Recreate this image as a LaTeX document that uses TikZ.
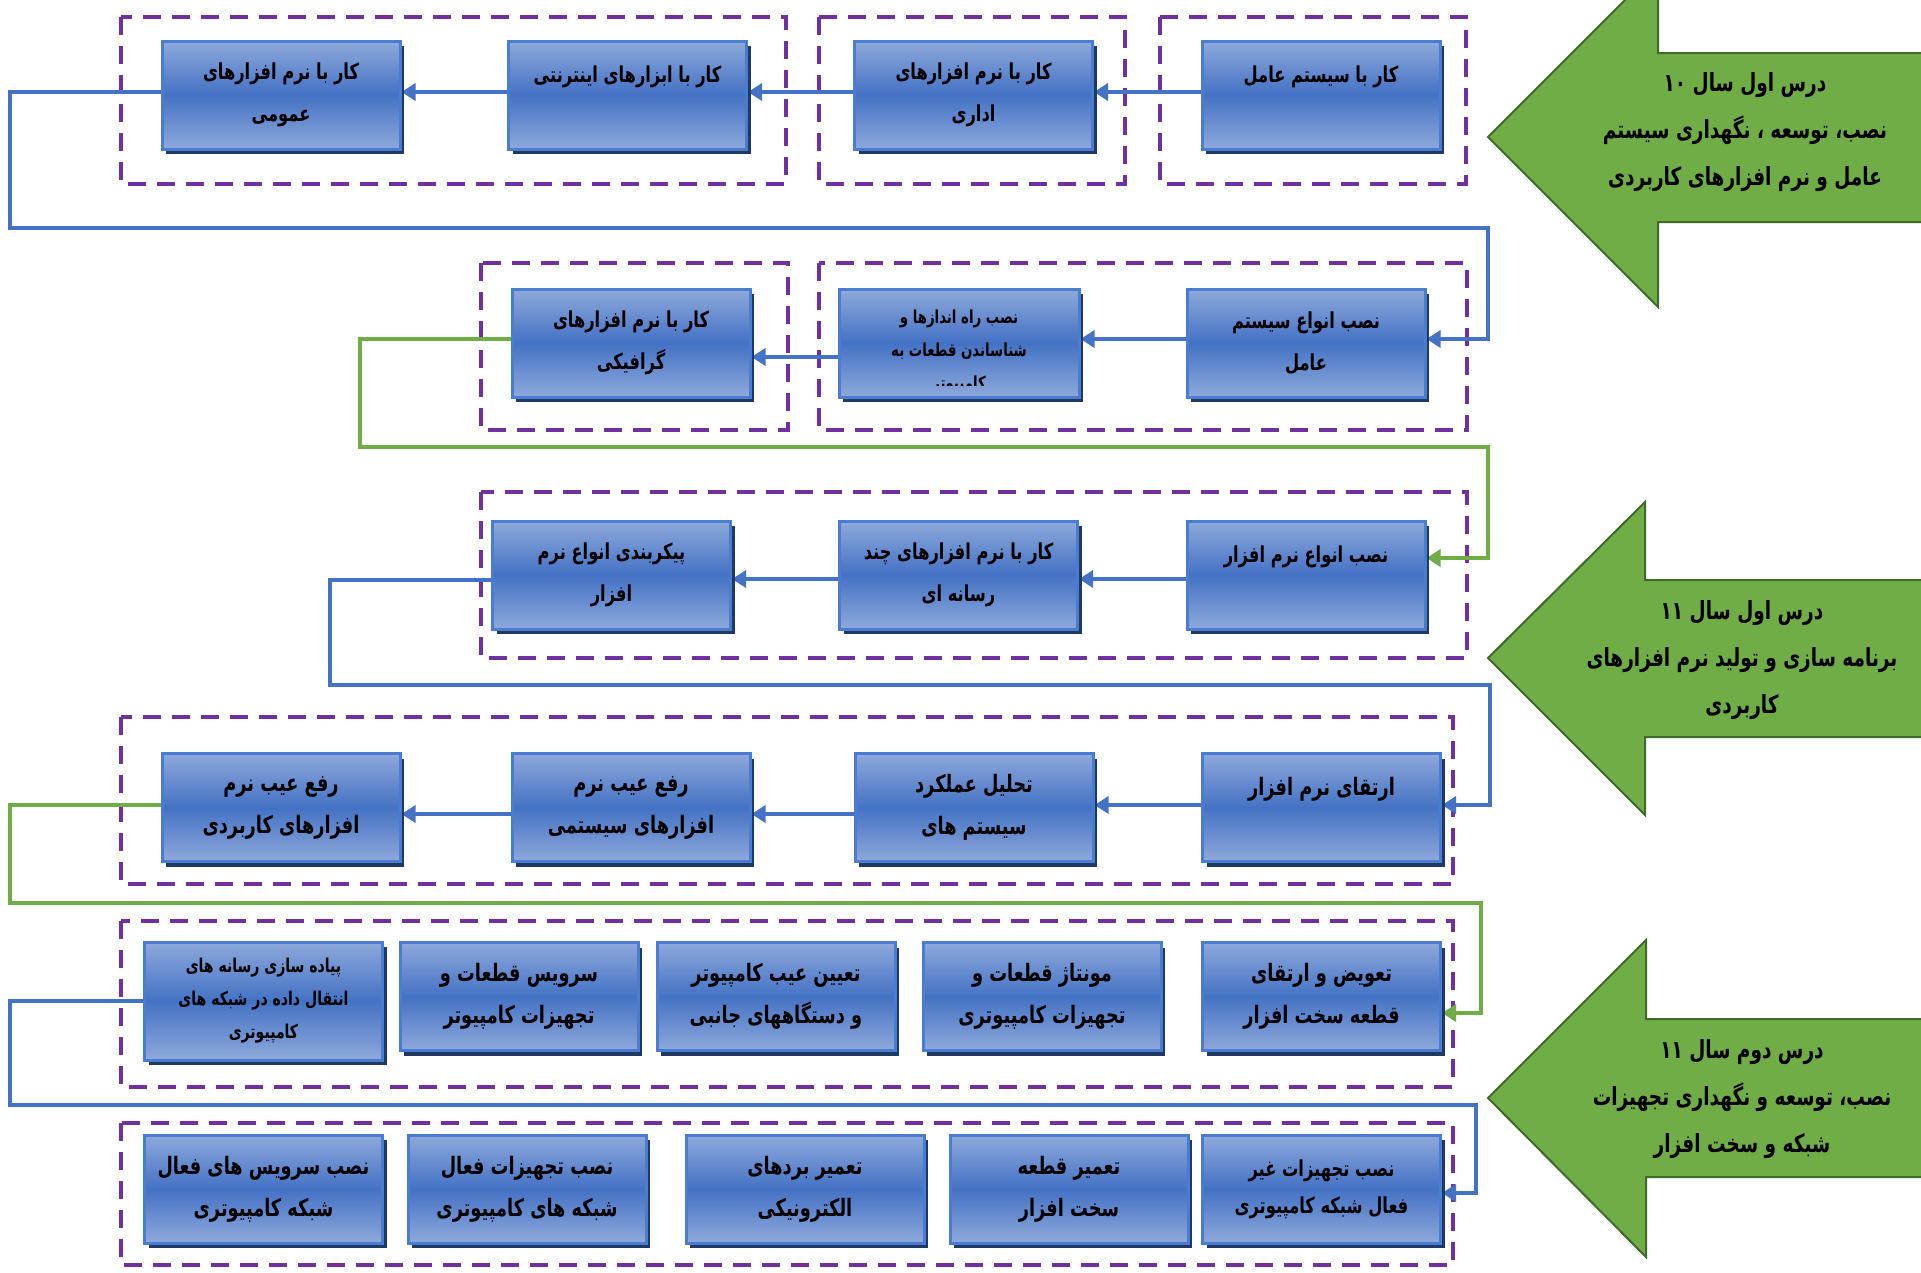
\documentclass[tikz,border=0pt]{standalone}
\usepackage{fontspec}
\newfontfamily\arabicfont[Script=Arabic, FakeStretch=0.74]{DejaVu Sans}
\TeXXeTstate=1
\usetikzlibrary{arrows.meta,shadows}
\definecolor{boxlight}{HTML}{8EA9DB}
\definecolor{boxmid}{HTML}{4472C4}
\definecolor{boxborder}{HTML}{4A7DD1}
\definecolor{shadowc}{HTML}{1F3864}
\definecolor{grpc}{HTML}{7030A0}
\definecolor{cblue}{HTML}{4472C4}
\definecolor{cgreen}{HTML}{70AD47}
\definecolor{agreen}{HTML}{70AD47}
\definecolor{adark}{HTML}{3F6B28}
\newcommand{\myR}[1]{\beginR#1\endR}
\pgfdeclarelayer{back}
\pgfdeclarelayer{mid}
\pgfsetlayers{back,mid,main}
\tikzset{
  bx/.style={draw=boxborder, line width=3pt, top color=boxlight, bottom color=boxlight, middle color=boxmid,
    minimum width=238pt, minimum height=108pt, inner sep=0pt, align=center,
    font=\arabicfont\bfseries\fontsize{22}{42}\selectfont,
    drop shadow={shadow xshift=4pt, shadow yshift=-5pt, fill=shadowc, opacity=1}},
  big/.style={font=\arabicfont\bfseries\fontsize{24}{42}\selectfont},
  smalltext/.style={font=\arabicfont\bfseries\fontsize{19}{33}\selectfont},
  grp/.style={draw=grpc, line width=4pt, dash pattern=on 18pt off 11pt},
  bl/.style={draw=cblue, line width=4.5pt, -{Triangle[length=14pt,width=17pt]}},
  gl/.style={draw=cgreen, line width=4.5pt, -{Triangle[length=14pt,width=17pt]}},
  bigarr/.style={fill=agreen, draw=adark, line width=2pt},
  atext/.style={align=center, inner sep=0pt, font=\arabicfont\bfseries\fontsize{25}{47}\selectfont}
}
\begin{document}
\begin{tikzpicture}[x=1pt,y=-1pt]
\useasboundingbox (0,0) rectangle (1921,1272);
\begin{pgfonlayer}{back}
\fill[white] (0,0) rectangle (1921,1272);
% dashed groups
\draw[grp] (1160,17) rectangle (1466,184);
\draw[grp] (819,17) rectangle (1125,184);
\draw[grp] (121,17) rectangle (786,184);
\draw[grp] (819,263) rectangle (1467,430);
\draw[grp] (481,263) rectangle (788,430);
\draw[grp] (481,492) rectangle (1467,658);
\draw[grp] (121,717) rectangle (1453,884);
\draw[grp] (121,921) rectangle (1453,1087);
\draw[grp] (121,1123) rectangle (1453,1265);
\end{pgfonlayer}

% big green arrows
\draw[bigarr] (1935,53) -- (1658,53) -- (1658,-33) -- (1488,137) -- (1658,307) -- (1658,222) -- (1935,222);
\draw[bigarr] (1935,580) -- (1645,580) -- (1645,502) -- (1488,658) -- (1645,815) -- (1645,737) -- (1935,737);
\draw[bigarr] (1935,1019) -- (1646,1019) -- (1646,940) -- (1488,1098) -- (1646,1257) -- (1646,1177) -- (1935,1177);
\node[atext] (g1) at (1745,132) {\myR{درس اول سال ۱۰}\\\myR{نصب، توسعه ، نگهداری سیستم}\\\myR{عامل و نرم افزارهای کاربردی}};
\node[atext] (g2) at (1742,660) {\myR{درس اول سال ۱۱}\\\myR{برنامه سازی و تولید نرم افزارهای}\\\myR{کاربردی}};
\node[atext] (g3) at (1742,1099) {\myR{درس دوم سال ۱۱}\\\myR{نصب، توسعه و نگهداری تجهیزات}\\\myR{شبکه و سخت افزار}};

% boxes
\node[bx] (a1) at (1321,95) {\myR{کار با سیستم عامل}\\\mbox{}};
\node[bx] (a2) at (973.5,95) {\myR{کار با نرم افزارهای}\\\myR{اداری}};
\node[bx] (a3) at (627.5,95) {\myR{کار با ابزارهای اینترنتی}\\\mbox{}};
\node[bx] (a4) at (281,95) {\myR{کار با نرم افزارهای}\\\myR{عمومی}};

\node[bx] (b1) at (1306,343) {\myR{نصب انواع سیستم}\\\myR{عامل}};
\node[bx, minimum width=240pt] (b2) at (959,343) {};
\node[bx] (b3) at (631,343) {\myR{کار با نرم افزارهای}\\\myR{گرافیکی}};
\begin{scope}
\clip ([xshift=3pt,yshift=13pt]b2.south west) rectangle ([xshift=-3pt,yshift=-3pt]b2.north east);
\node[align=center, font=\arabicfont\bfseries\fontsize{18}{33}\selectfont] (b2t) at ([yshift=-9pt]b2.center) {\myR{نصب راه اندازها و}\\\myR{شناساندن قطعات به}\\\myR{کامپیوتر}};
\end{scope}

\node[bx] (c1) at (1306,575) {\myR{نصب انواع نرم افزار}\\\mbox{}};
\node[bx] (c2) at (958.5,575) {\myR{کار با نرم افزارهای چند}\\\myR{رسانه ای}};
\node[bx] (c3) at (611.5,575) {\myR{پیکربندی انواع نرم}\\\myR{افزار}};

\node[bx, big] (d1) at (1321.5,807.5) {\myR{ارتقای نرم افزار}\\\mbox{}};
\node[bx, big] (d2) at (974,807.5) {\myR{تحلیل عملکرد}\\\myR{سیستم های}};
\node[bx, big] (d3) at (631,807.5) {\myR{رفع عیب نرم}\\\myR{افزارهای سیستمی}};
\node[bx, big] (d4) at (281,807.5) {\myR{رفع عیب نرم}\\\myR{افزارهای کاربردی}};

\node[bx, big] (e1) at (1321.5,996.5) {\myR{تعویض و ارتقای}\\\myR{قطعه سخت افزار}};
\node[bx, big] (e2) at (1042,996.5) {\myR{مونتاژ قطعات و}\\\myR{تجهیزات کامپیوتری}};
\node[bx, big] (e3) at (776,996.5) {\myR{تعیین عیب کامپیوتر}\\\myR{و دستگاههای جانبی}};
\node[bx, big] (e4) at (519,996.5) {\myR{سرویس قطعات و}\\\myR{تجهیزات کامپیوتر}};
\node[bx, minimum height=118pt, smalltext] (e5) at (263.5,1001) {\myR{پیاده سازی رسانه های}\\\myR{انتقال داده در شبکه های}\\\myR{کامپیوتری}};

\node[bx, font=\arabicfont\bfseries\fontsize{22}{37}\selectfont] (f1) at (1321.5,1189) {\myR{نصب تجهیزات غیر}\\\myR{فعال شبکه کامپیوتری}};
\node[bx, big] (f2) at (1069,1189) {\myR{تعمیر قطعه}\\\myR{سخت افزار}};
\node[bx, big] (f3) at (805,1189) {\myR{تعمیر بردهای}\\\myR{الکترونیکی}};
\node[bx, big] (f4) at (527,1189) {\myR{نصب تجهیزات فعال}\\\myR{شبکه های کامپیوتری}};
\node[bx, big] (f5) at (263.5,1189) {\myR{نصب سرویس های فعال}\\\myR{شبکه کامپیوتری}};

% connectors
\begin{pgfonlayer}{mid}
\draw[bl] ([yshift=3pt]a1.west) -- ([yshift=3pt]a2.east);
\draw[bl] ([yshift=3pt]a2.west) -- ([yshift=3pt]a3.east);
\draw[bl] ([yshift=3pt]a3.west) -- ([yshift=3pt]a4.east);
\draw[bl] ([yshift=3pt]a4.west) -- (10,92) -- (10,228) -- (1488,228) -- (1488,339) -- ([yshift=4pt]b1.east);
\draw[bl] ([yshift=4pt]b1.west) -- ([yshift=4pt]b2.east);
\draw[bl] ([yshift=-14pt]b2.west) -- ([yshift=-14pt]b3.east);
\draw[gl] ([yshift=4pt]b3.west) -- (360,339) -- (360,447) -- (1488,447) -- (1488,558) -- ([yshift=17pt]c1.east);
\draw[bl] ([yshift=-4pt]c1.west) -- ([yshift=-4pt]c2.east);
\draw[bl] ([yshift=-4pt]c2.west) -- ([yshift=-4pt]c3.east);
\draw[bl] ([yshift=-5pt]c3.west) -- (330,580) -- (330,685) -- (1490,685) -- (1490,805) -- ([yshift=2.5pt]d1.east);
\draw[bl] ([yshift=2.5pt]d1.west) -- ([yshift=2.5pt]d2.east);
\draw[bl] ([yshift=-6.5pt]d2.west) -- ([yshift=-6.5pt]d3.east);
\draw[bl] ([yshift=-6.5pt]d3.west) -- ([yshift=-6.5pt]d4.east);
\draw[gl] ([yshift=2.5pt]d4.west) -- (10,805) -- (10,903) -- (1481,903) -- (1481,1013) -- ([yshift=-16.5pt]e1.east);
\draw[bl] (e5.west) -- (10,1001) -- (10,1105) -- (1476,1105) -- (1476,1193) -- ([yshift=-4pt]f1.east);
\end{pgfonlayer}
\end{tikzpicture}
\end{document}
